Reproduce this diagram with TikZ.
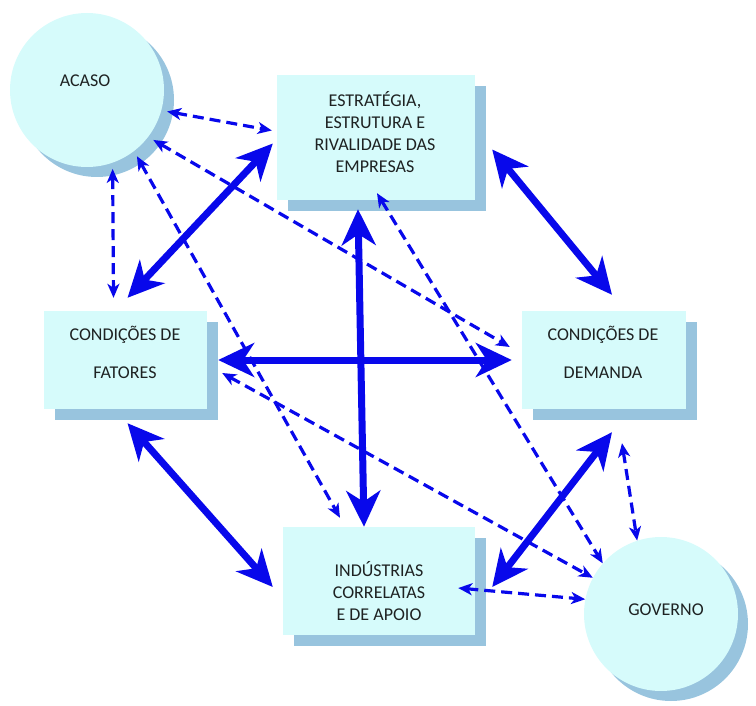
\documentclass[tikz,border=0pt]{standalone}
\usepackage{fontspec}
\setmainfont{Carlito}
\usetikzlibrary{arrows.meta,shadows}
\definecolor{boxfill}{RGB}{214,251,251}
\definecolor{boxshade}{RGB}{152,196,222}
\definecolor{linkblue}{RGB}{8,8,235}
\definecolor{inkgrey}{RGB}{30,34,34}

\begin{document}
\begin{tikzpicture}[
  x=1pt, y=-1pt,
  font=\fontsize{18}{22}\selectfont,
  box/.style={fill=boxfill, inner sep=0pt, drop shadow={shadow xshift=11pt, shadow yshift=-11pt, fill=boxshade, opacity=1}},
  bubble/.style={circle, fill=boxfill, inner sep=0pt, minimum size=154pt, drop shadow={shadow xshift=10pt, shadow yshift=-10pt, fill=boxshade, opacity=1}},
  txt/.style={align=center, text=inkgrey},
  link/.style={draw=linkblue, line width=7pt, {Stealth[length=36pt,width=34pt,inset=11pt]}-{Stealth[length=36pt,width=34pt,inset=11pt]}},
  hint/.style={draw=linkblue, line width=3.2pt, dash pattern=on 11pt off 6pt, {Stealth[length=14pt,width=12pt,inset=4pt]}-{Stealth[length=14pt,width=12pt,inset=4pt]}}
]
  \useasboundingbox (0,0) rectangle (756,706);
  \node[bubble, outer sep=6pt] (acaso) at (87,90) {};
  \node[bubble] (gov) at (661,614) {};
  \node[box, minimum width=198pt, minimum height=125pt] (estr) at (376,137.5) {};
  \node[box, minimum width=163pt, minimum height=98pt] (fat) at (125.5,360) {};
  \node[box, minimum width=164pt, minimum height=98pt] (dem) at (604,360) {};
  \node[box, minimum width=192pt, minimum height=108pt] (ind) at (379,581) {};
  \node[txt] (acasotxt) at (85,81) {ACASO};
  \node[txt] (govtxt) at (666,610) {GOVERNO};
  \node[txt] (estrtxt) at (375,132) {ESTRATÉGIA,\\ESTRUTURA E\\RIVALIDADE DAS\\EMPRESAS};
  \node[txt] (fattxt) at (125,352) {CONDIÇÕES DE\\[16pt]FATORES};
  \node[txt] (demtxt) at (603,352) {CONDIÇÕES DE\\[16pt]DEMANDA};
  \node[txt] (indtxt) at (379,591) {INDÚSTRIAS\\CORRELATAS\\E DE APOIO};
  \draw[hint] (acaso.-15) -- ([xshift=-5pt,yshift=7pt]estr.west);
  \draw[hint] (acaso.-72) -- ([xshift=-12pt,yshift=13pt]fat.north);
  \draw[hint] (acaso.-37) -- ([xshift=-12pt,yshift=13pt]dem.west);
  \draw[hint] (acaso.-53) -- ([xshift=-39pt,yshift=9pt]ind.north);
  \draw[hint] ([xshift=15pt,yshift=-13pt]fat.east) -- (gov.152);
  \draw[hint] ([xshift=1pt,yshift=7pt]estr.south) -- (gov.139);
  \draw[hint] ([xshift=18pt,yshift=-34pt]dem.south) -- (gov.108);
  \draw[hint] ([xshift=-17pt,yshift=-7pt]ind.east) -- (gov.169);
  \draw[link] ([xshift=-4pt,yshift=-6pt]estr.west) -- ([xshift=2pt,yshift=13pt]fat.north);
  \draw[link] ([xshift=17pt,yshift=-12pt]estr.east) -- ([xshift=8pt,yshift=16pt]dem.north);
  \draw[link] ([xshift=11pt]fat.east) -- ([xshift=-10pt]dem.west);
  \draw[link] ([xshift=-18pt,yshift=-9pt]estr.south) -- ([xshift=-15pt]ind.north);
  \draw[link] ([xshift=2pt,yshift=-14pt]fat.south) -- ([xshift=-10pt,yshift=-6pt]ind.west);
  \draw[link] ([xshift=8pt,yshift=-23pt]dem.south) -- ([xshift=17pt,yshift=-6pt]ind.east);
\end{tikzpicture}
\end{document}
